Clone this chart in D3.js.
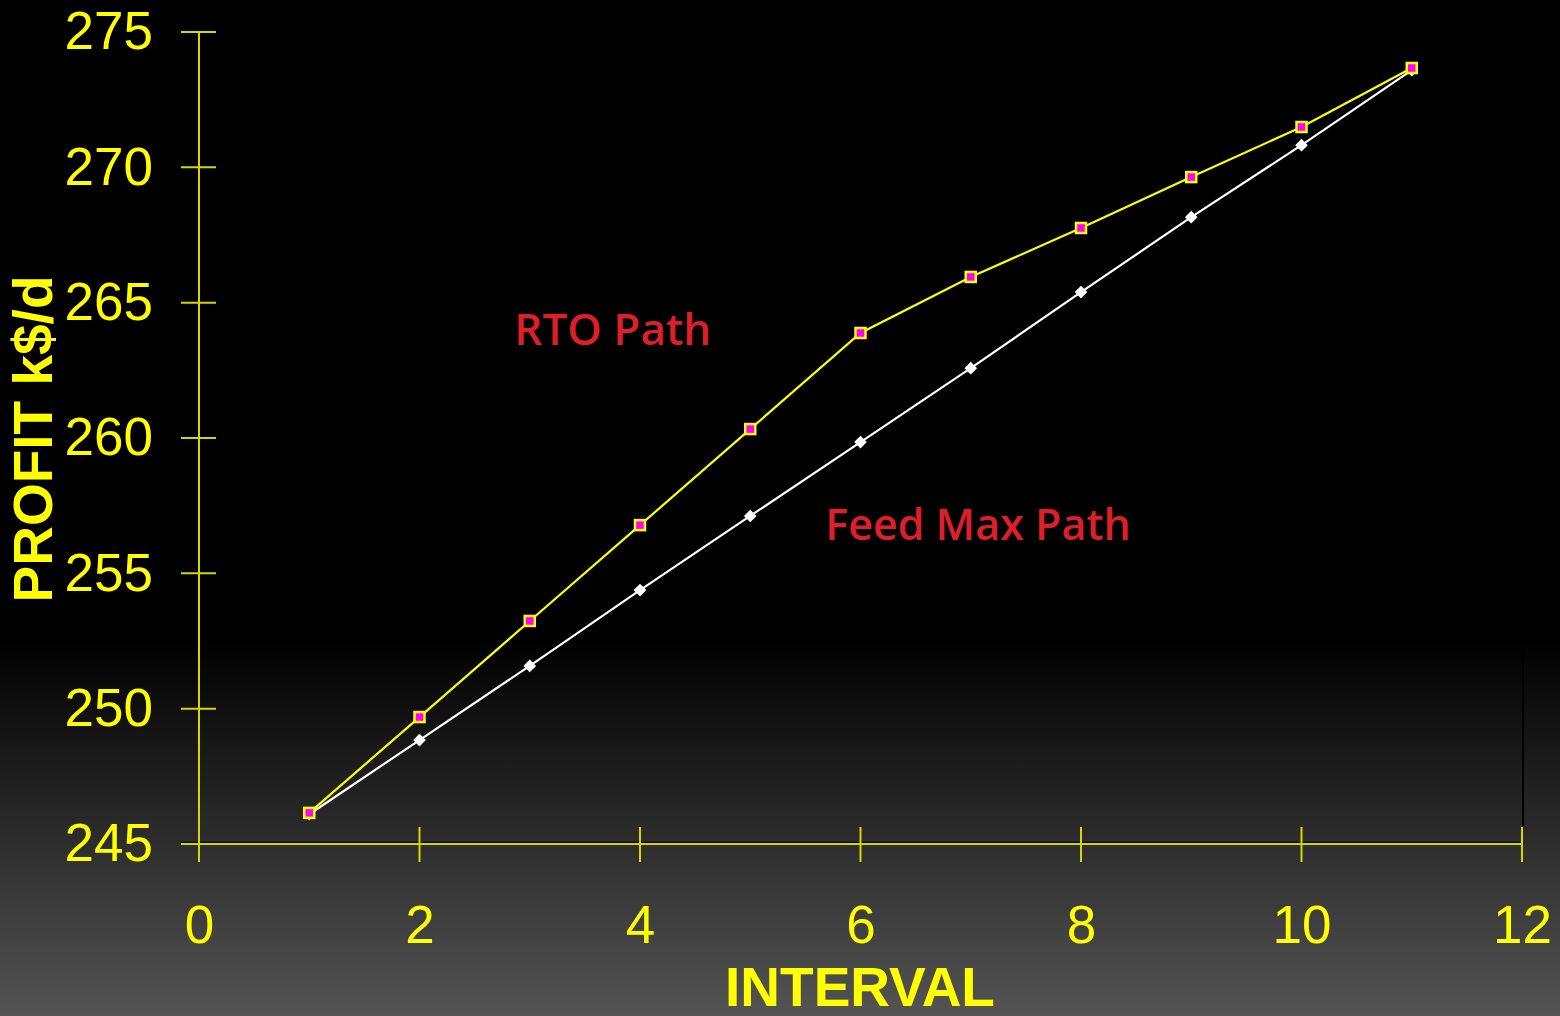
<!DOCTYPE html>
<html><head><meta charset="utf-8">
<script src="https://cdn.jsdelivr.net/npm/d3@7"></script>
<style>html,body{margin:0;padding:0;background:#000;overflow:hidden}</style>
</head><body>
<svg id="chart" width="1560" height="1016"></svg>
<script>
const intervals = [1,2,3,4,5,6,7,8,9,10,11];
const rtoPath = [246.15,249.69,253.24,256.78,260.33,263.88,265.95,267.76,269.64,271.49,273.67];
const feedMaxPath = [246.1,248.84,251.58,254.38,257.12,259.85,262.58,265.39,268.16,270.82,273.59];
const xTicks = [0,2,4,6,8,10,12];
const yTicks = [245,250,255,260,265,270,275];
const labels = [{text:"RTO Path", x:2.86, y:263.43, size:44},{text:"Feed Max Path", x:5.68, y:256.23, size:43}];

const svg = d3.select("#chart");
const defs = svg.append("defs");
const grad = defs.append("linearGradient").attr("id","bg").attr("x1",0).attr("y1",0).attr("x2",0).attr("y2",1);
grad.append("stop").attr("offset","0").attr("stop-color","#000");
grad.append("stop").attr("offset","0.63").attr("stop-color","#000");
grad.append("stop").attr("offset","1").attr("stop-color","#545454");
svg.append("rect").attr("width",1560).attr("height",1016).attr("fill","url(#bg)");

const x = d3.scaleLinear().domain([0,12]).range([199,1522]);
const y = d3.scaleLinear().domain([245,275]).range([844,32]);
const axisColor = "#d6d600";
const font = "'Liberation Sans', Arial, sans-serif";

// right border (dark)
svg.append("line").attr("x1",1523).attr("x2",1523).attr("y1",y(275)).attr("y2",826)
  .attr("stroke","#000").attr("stroke-width",2);

// Y axis
const yAxis = d3.axisLeft(y).tickValues(yTicks).tickSize(0).tickPadding(46).tickFormat(d3.format("d"));
const gy = svg.append("g").attr("transform",`translate(${x(0)},0)`).call(yAxis);
gy.select(".domain").remove();
gy.selectAll("text").attr("fill","#ffff00").style("font-family",font).style("font-size","53px");
svg.append("line").attr("x1",x(0)).attr("x2",x(0)).attr("y1",y(275)).attr("y2",y(245)+18).attr("stroke",axisColor).attr("stroke-width",2);
svg.selectAll(".ytick").data(yTicks).enter().append("line")
  .attr("x1",181).attr("x2",216).attr("y1",d=>y(d)).attr("y2",d=>y(d))
  .attr("stroke",axisColor).attr("stroke-width",2);

// X axis
const xAxis = d3.axisBottom(x).tickValues(xTicks).tickSize(0).tickPadding(61).tickFormat(d3.format("d"));
const gx = svg.append("g").attr("transform",`translate(0,${y(245)})`).call(xAxis);
gx.select(".domain").remove();
gx.selectAll("text").attr("fill","#ffff00").style("font-family",font).style("font-size","53px");
svg.append("line").attr("x1",181).attr("x2",x(12)).attr("y1",y(245)-1.5).attr("y2",y(245)-1.5).attr("stroke","#000").attr("stroke-width",1.5);
svg.append("line").attr("x1",181).attr("x2",x(12)).attr("y1",y(245)).attr("y2",y(245)).attr("stroke",axisColor).attr("stroke-width",2);
svg.selectAll(".xtick").data(xTicks).enter().append("line")
  .attr("x1",d=>x(d)).attr("x2",d=>x(d)).attr("y1",y(245)-17).attr("y2",y(245)+18)
  .attr("stroke",axisColor).attr("stroke-width",2);

// Axis titles
svg.append("text").attr("x",860).attr("y",1006).attr("text-anchor","middle")
  .attr("fill","#ffff00").style("font-family",font).style("font-weight","bold").style("font-size","55px")
  .text("INTERVAL");
svg.append("text").attr("transform","translate(52,439) rotate(-90)").attr("text-anchor","middle")
  .attr("fill","#ffff00").style("font-family",font).style("font-weight","bold").style("font-size","55px")
  .text("PROFIT k$/d");

// Lines
const line = d3.line().x((d,i)=>x(intervals[i])).y(d=>y(d));
svg.append("path").datum(feedMaxPath).attr("d",line).attr("fill","none").attr("stroke","#ffffff").attr("stroke-width",2.2);
svg.append("path").datum(rtoPath).attr("d",line).attr("fill","none").attr("stroke","#ffff00").attr("stroke-width",2.2);

// Markers
const sq = d3.symbol().type(d3.symbolSquare).size(80);
svg.selectAll(".fm").data(feedMaxPath).enter().append("path")
  .attr("d",sq).attr("transform",(d,i)=>`translate(${x(intervals[i])},${y(d)}) rotate(45)`)
  .attr("fill","#ffffff");
svg.selectAll(".rto").data(rtoPath).enter().append("rect")
  .attr("x",(d,i)=>x(intervals[i])-5).attr("y",d=>y(d)-5).attr("width",10).attr("height",10)
  .attr("fill","#ff00ff").attr("stroke","#ffff00").attr("stroke-width",2.5);

// Labels
svg.selectAll(".lbl").data(labels).enter().append("text")
  .attr("x",d=>x(d.x)).attr("y",d=>y(d.y)).attr("fill","#dc1f2b")
  .style("font-family","'Open Sans', 'Noto Sans', sans-serif").style("font-weight","600").style("font-size",d=>d.size+"px")
  .text(d=>d.text);
</script>
</body></html>
